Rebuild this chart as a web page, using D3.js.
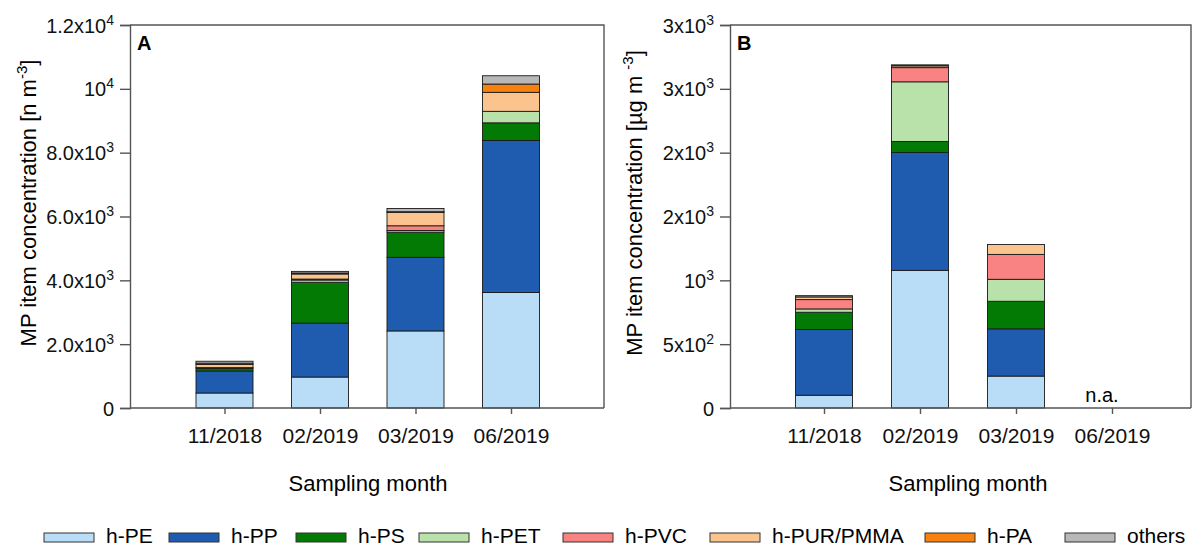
<!DOCTYPE html>
<html>
<head>
<meta charset="utf-8">
<script src="https://cdn.jsdelivr.net/npm/d3@7.9.0/dist/d3.min.js"></script>
<style>
  body { margin: 0; background: #fff; }
  svg { font-family: "Liberation Sans", Arial, sans-serif; }
  .axis path, .axis line { stroke: #555; stroke-width: 1.4; }
  .axis text { fill: #111; }
</style>
</head>
<body>
<div id="chart"></div>
<script>
const months = ["11/2018", "02/2019", "03/2019", "06/2019"];
const polymers = ["h-PE", "h-PP", "h-PS", "h-PET", "h-PVC", "h-PUR/PMMA", "h-PA", "others"];
const polyColors = ["#b9ddf6", "#1f5cb0", "#037a03", "#b8e2a9", "#f98282", "#fbc48f", "#f7820f", "#b8b8b8"];

// panel A: item concentration [n m-3]
const nPE    = [470, 970, 2415, 3620];
const nPP    = [690, 1690, 2305, 4760];
const nPS    = [75, 1280, 790, 555];
const nPET   = [30, 70, 50, 360];
const nPVC   = [0, 30, 150, 0];
const nPUR   = [100, 160, 420, 595];
const nPA    = [40, 30, 20, 260];
const nOther = [60, 50, 100, 260];

// panel B: mass concentration [µg m-3], 06/2019 not analysed
const mPE    = [100, 1078, 250, null];
const mPP    = [515, 924, 370, null];
const mPS    = [135, 86, 216, null];
const mPET   = [26, 467, 172, null];
const mPVC   = [73, 111, 195, null];
const mPUR   = [21, 14, 78, null];
const mPA    = [0, 0, 0, null];
const mOther = [10, 8, 0, null];

const ticksA = [0, 2000, 4000, 6000, 8000, 10000, 12000];
const tickLabelsA = [["0", ""], ["2.0x10", "3"], ["4.0x10", "3"], ["6.0x10", "3"], ["8.0x10", "3"], ["10", "4"], ["1.2x10", "4"]];
const ticksB = [0, 500, 1000, 1500, 2000, 2500, 3000];
const tickLabelsB = [["0", ""], ["5x10", "2"], ["10", "3"], ["2x10", "3"], ["2x10", "3"], ["3x10", "3"], ["3x10", "3"]];

const W = 1198, H = 549;
const svg = d3.select("#chart").append("svg").attr("width", W).attr("height", H);

function buildRows(series) {
  return months.map((m, i) => {
    const row = { month: m, missing: series[0][i] == null };
    polymers.forEach((p, j) => { row[p] = series[j][i] ?? 0; });
    return row;
  });
}

function drawPanel(cfg) {
  const { x0, x1, centers, yMax, rows, ticks, tickLabels, letter, title, titleCenterX, xTitleX } = cfg;
  const top = 25, bottom = 408;

  const y = d3.scaleLinear().domain([0, yMax]).range([bottom, top]);
  const x = d3.scalePoint().domain(months).range(centers);
  const barW = 57;

  const layers = d3.stack().keys(polymers)(rows);
  const color = d3.scaleOrdinal().domain(polymers).range(polyColors);

  const g = svg.append("g");

  // frame (top and right)
  g.append("path")
    .attr("d", `M${x0},${top}H${x1}V${bottom}`)
    .attr("fill", "none").attr("stroke", "#555").attr("stroke-width", 1.4);

  layers.forEach(layer => {
    g.append("g").selectAll("rect")
      .data(layer.filter(d => !d.data.missing && d[1] - d[0] > 0))
      .join("rect")
        .attr("x", d => x(d.data.month) - barW / 2)
        .attr("width", barW)
        .attr("y", d => y(d[1]))
        .attr("height", d => y(d[0]) - y(d[1]))
        .attr("fill", color(layer.key))
        .attr("stroke", "#1a1a1a")
        .attr("stroke-width", 0.9);
  });

  // y axis
  const yAxis = d3.axisLeft(y).tickValues(ticks).tickSize(10).tickPadding(6).tickFormat(() => "");
  const ya = g.append("g").attr("class", "axis").attr("transform", `translate(${x0},0)`).call(yAxis);
  ya.selectAll(".tick text").each(function (d, i) {
    const t = d3.select(this).attr("font-size", 20).attr("dy", "0.35em");
    t.append("tspan").text(tickLabels[i][0]);
    if (tickLabels[i][1]) {
      t.append("tspan").attr("dy", -8).attr("font-size", 14).text(tickLabels[i][1]);
    }
  });

  // x axis
  const xAxis = d3.axisBottom(x).tickSize(6).tickPadding(14).tickSizeOuter(0);
  const xa = g.append("g").attr("class", "axis").attr("transform", `translate(0,${bottom})`).call(xAxis);
  xa.select(".domain").attr("d", `M${x0},0H${x1}`);
  xa.selectAll(".tick text").attr("font-size", 21);

  g.append("text")
    .attr("x", x0 + 7).attr("y", top + 25)
    .attr("font-size", 20).attr("font-weight", "bold")
    .text(letter);

  g.append("text")
    .attr("x", xTitleX).attr("y", 491)
    .attr("text-anchor", "middle").attr("font-size", 22)
    .text("Sampling month");

  const yt = g.append("text")
    .attr("transform", `translate(${titleCenterX},203) rotate(-90)`)
    .attr("text-anchor", "middle").attr("font-size", 22);
  title(yt);

  rows.filter(r => r.missing).forEach(r => {
    g.append("text")
      .attr("x", x(r.month) - 10).attr("y", bottom - 6)
      .attr("text-anchor", "middle").attr("font-size", 20)
      .text("n.a.");
  });
}

drawPanel({
  x0: 130, x1: 604, centers: [224.5, 511], yMax: 12000,
  rows: buildRows([nPE, nPP, nPS, nPET, nPVC, nPUR, nPA, nOther]),
  ticks: ticksA, tickLabels: tickLabelsA, letter: "A",
  titleCenterX: 36, xTitleX: 368,
  title: t => {
    t.append("tspan").text("MP item concentration [n m");
    t.append("tspan").attr("dy", -9).attr("font-size", 15).text("-3");
    t.append("tspan").attr("dy", 9).text("]");
  }
});

drawPanel({
  x0: 730, x1: 1191, centers: [824, 1112], yMax: 3000,
  rows: buildRows([mPE, mPP, mPS, mPET, mPVC, mPUR, mPA, mOther]),
  ticks: ticksB, tickLabels: tickLabelsB, letter: "B",
  titleCenterX: 642, xTitleX: 968,
  title: t => {
    t.append("tspan").text("MP item concentration [\u00b5g  m ");
    t.append("tspan").attr("dy", -9).attr("font-size", 15).text("-3");
    t.append("tspan").attr("dy", 9).text("]");
  }
});

// legend
const legendX = [44, 169, 296, 419, 563, 710, 925, 1065];
const legend = svg.append("g");
polymers.forEach((p, i) => {
  const lg = legend.append("g").attr("transform", `translate(${legendX[i]},0)`);
  lg.append("rect").attr("x", 0).attr("y", 533).attr("width", 50).attr("height", 9)
    .attr("fill", polyColors[i]).attr("stroke", "#333").attr("stroke-width", 1);
  lg.append("text").attr("x", 62).attr("y", 543).attr("font-size", 21).text(p);
});
</script>
</body>
</html>
